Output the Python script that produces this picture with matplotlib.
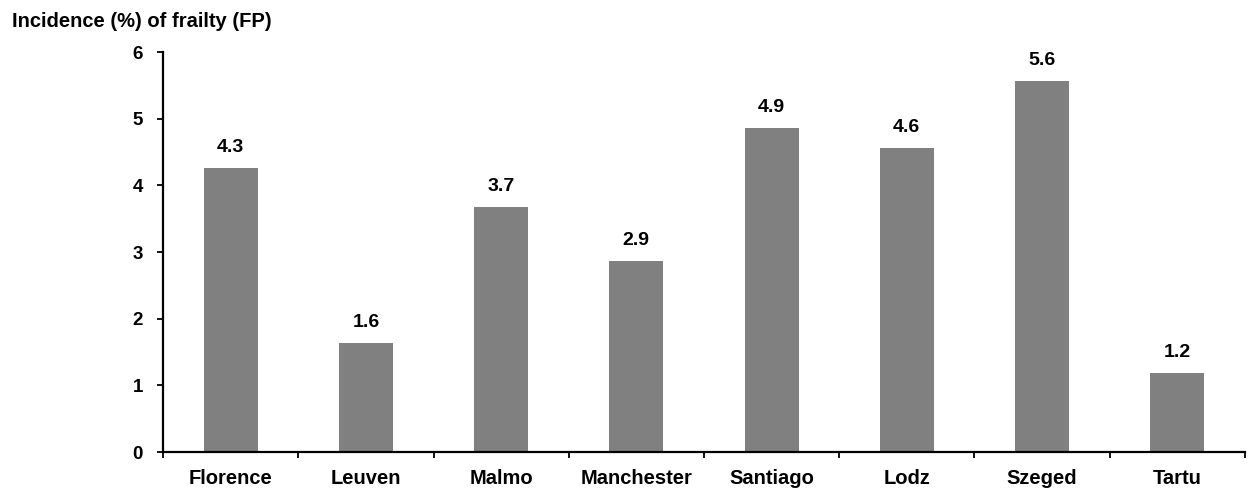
import matplotlib
matplotlib.use("Agg")
import matplotlib.pyplot as plt
import numpy as np

cities = ["Florence", "Leuven", "Malmo", "Manchester", "Santiago", "Lodz", "Szeged", "Tartu"]
incidence = [4.26, 1.64, 3.68, 2.87, 4.86, 4.56, 5.56, 1.18]
yticks = [0, 1, 2, 3, 4, 5, 6]

plt.rcParams['font.family'] = ['Liberation Sans', 'DejaVu Sans']
plt.rcParams['font.weight'] = 'bold'

fig = plt.figure(figsize=(12.56, 4.94), dpi=100)
ax = fig.add_axes([0.1298, 0.085, 0.8614, 0.8097])

x = np.arange(len(cities))
ax.bar(x, incidence, width=0.4, color="#808080")

for xi, v in zip(x, incidence):
    ax.annotate(f"{v:.1f}", xy=(xi, v), xytext=(0, 11.5), textcoords="offset points",
                ha="center", va="baseline", fontsize=14, fontweight="bold")

ax.set_xlim(-0.5, len(cities) - 0.5)
ax.set_ylim(0, 6)
ax.set_yticks(yticks)
ax.set_yticklabels([str(t) for t in yticks], fontsize=13.5, fontweight="bold")

# category labels centred on bars, tick marks at the category boundaries
ax.set_xticks(np.arange(len(cities) + 1) - 0.5)
ax.set_xticklabels([])
ax.set_xticks(x, minor=True)
ax.set_xticklabels(cities, minor=True, fontsize=14.5, fontweight="bold")
ax.tick_params(axis="x", which="minor", length=0, pad=12)
ax.tick_params(axis="x", which="major", length=4.5, width=1.3, direction="out")
ax.tick_params(axis="y", length=4.5, width=1.3, direction="out", pad=10)

for side in ["top", "right"]:
    ax.spines[side].set_visible(False)
for side in ["left", "bottom"]:
    ax.spines[side].set_linewidth(1.6)

fig.text(0.0095, 0.957, "Incidence (%) of frailty (FP)", fontsize=14.5,
         fontweight="bold", ha="left", va="center")

fig.savefig("out.png", dpi=100)
